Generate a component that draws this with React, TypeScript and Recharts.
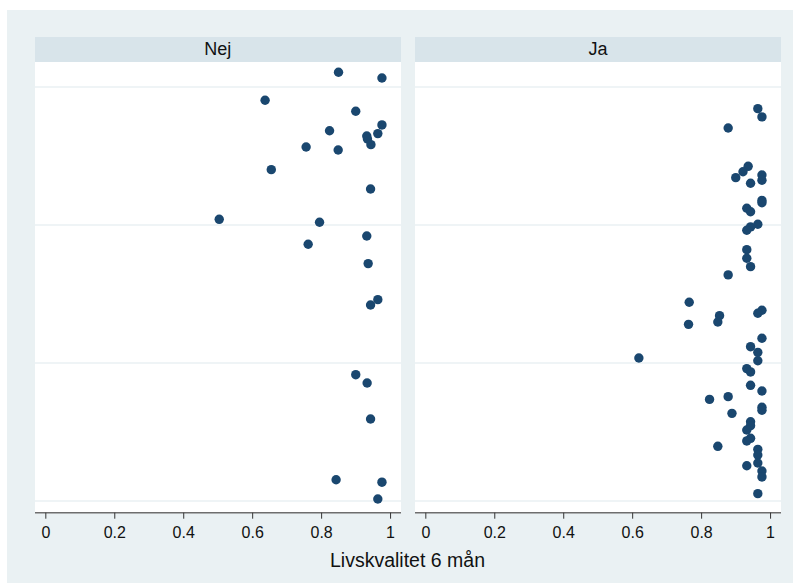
import React from "react";
import { ScatterChart, Scatter, XAxis, YAxis, CartesianGrid } from "recharts";

// Livskvalitet 6 mån per patient, split by group; position is the vertical jitter row.
const nejLivskvalitet = [
  0.849, 0.975, 0.636, 0.899, 0.975, 0.823, 0.963, 0.931, 0.933, 0.943,
  0.755, 0.848, 0.654, 0.942, 0.503, 0.794, 0.931, 0.761, 0.935, 0.963,
  0.942, 0.899, 0.932, 0.942, 0.842, 0.975, 0.963,
];
const nejPosition = [
  3.107, 3.065, 2.904, 2.824, 2.725, 2.683, 2.662, 2.645, 2.623, 2.582,
  2.565, 2.543, 2.401, 2.261, 2.041, 2.02, 1.92, 1.86, 1.72, 1.459,
  1.42, 0.915, 0.855, 0.594, 0.154, 0.136, 0.014,
];

const jaLivskvalitet = [
  0.963, 0.975, 0.877, 0.935, 0.92, 0.899, 0.975, 0.975, 0.942, 0.975,
  0.975, 0.931, 0.942, 0.963, 0.942, 0.931, 0.931, 0.931, 0.942, 0.877,
  0.764, 0.852, 0.847, 0.762, 0.975, 0.963, 0.975, 0.942, 0.963, 0.963,
  0.618, 0.931, 0.942, 0.942, 0.975, 0.823, 0.877, 0.888, 0.975, 0.975,
  0.942, 0.942, 0.931, 0.942, 0.931, 0.847, 0.963, 0.963, 0.963, 0.931,
  0.975, 0.975, 0.963,
];
const jaPosition = [
  2.843, 2.783, 2.703, 2.425, 2.386, 2.343, 2.362, 2.324, 2.302, 2.178,
  2.161, 2.121, 2.096, 2.005, 1.986, 1.962, 1.821, 1.759, 1.698, 1.638,
  1.44, 1.343, 1.297, 1.28, 1.382, 1.36, 1.179, 1.118, 1.077, 1.016,
  1.036, 0.959, 0.935, 0.838, 0.797, 0.736, 0.756, 0.635, 0.679, 0.657,
  0.574, 0.545, 0.514, 0.454, 0.435, 0.396, 0.374, 0.333, 0.275, 0.255,
  0.217, 0.174, 0.053,
];

const panelLabels = ["Nej", "Ja"];
const xTicks = [0, 0.2, 0.4, 0.6, 0.8, 1];
const gridRows = [0, 1, 2, 3];
const xTitle = "Livskvalitet 6 mån";

const FONT = "'Liberation Sans', Arial, Helvetica, sans-serif";
const BG = "#eaf1f3";
const STRIP = "#d8e4ea";
const MARKER = "#1a476f";

const toPoints = (xs: number[], ys: number[]) => xs.map((x, i) => ({ x, y: ys[i] }));

const panels = [
  { label: panelLabels[0], data: toPoints(nejLivskvalitet, nejPosition), left: 27.5 },
  { label: panelLabels[1], data: toPoints(jaLivskvalitet, jaPosition), left: 407.7 },
];

const PANEL_W = 366.4;
const PLOT_H = 450.7;
const AXIS_H = 40;

const Dot = (props: any) => {
  const { cx, cy } = props;
  if (cx == null || cy == null) return null;
  return <circle cx={cx} cy={cy} r={4.7} fill={MARKER} />;
};

export default function App() {
  return (
    <div
      style={{
        position: "absolute",
        left: 7,
        top: 10,
        width: 786,
        height: 573,
        background: BG,
        fontFamily: FONT,
      }}
    >
      {panels.map((p) => (
        <React.Fragment key={p.label}>
          <div
            style={{
              position: "absolute",
              left: p.left,
              top: 27,
              width: PANEL_W,
              height: 25,
              background: STRIP,
              color: "#111",
              fontSize: 18,
              lineHeight: "25px",
              textAlign: "center",
            }}
          >
            {p.label}
          </div>
          <div style={{ position: "absolute", left: p.left, top: 52 }}>
            <ScatterChart
              width={PANEL_W}
              height={PLOT_H + AXIS_H}
              margin={{ top: 0, right: 0, bottom: 0, left: 0 }}
            >
              <CartesianGrid
                fill="#ffffff"
                vertical={false}
                stroke={BG}
                strokeWidth={1.5}
                horizontalValues={gridRows}
              />
              <XAxis
                type="number"
                dataKey="x"
                domain={[-0.0314, 1.0314]}
                ticks={xTicks}
                interval={0}
                allowDataOverflow
                height={AXIS_H}
                tickSize={6}
                tickMargin={8}
                axisLine={{ stroke: "#6e6e6e", strokeWidth: 1.6 }}
                tickLine={{ stroke: "#333333", strokeWidth: 1 }}
                tick={{ fill: "#111", fontSize: 16, fontFamily: FONT }}
              />
              <YAxis
                type="number"
                dataKey="y"
                domain={[-0.085, 3.181]}
                ticks={gridRows}
                allowDataOverflow
                hide
              />
              <Scatter data={p.data} shape={<Dot />} isAnimationActive={false} />
            </ScatterChart>
          </div>
        </React.Fragment>
      ))}
      <div
        style={{
          position: "absolute",
          left: 0,
          width: 801,
          top: 539,
          textAlign: "center",
          fontSize: 19.5,
          color: "#111",
          lineHeight: "22px",
        }}
      >
        {xTitle}
      </div>
    </div>
  );
}
